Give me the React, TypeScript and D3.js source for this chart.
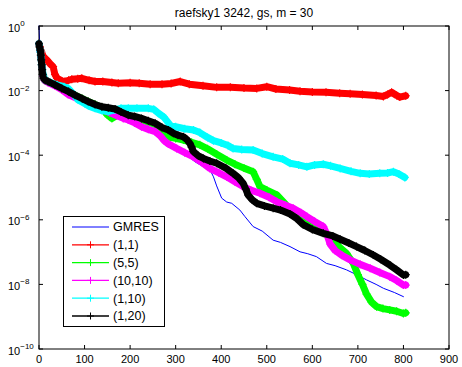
import React from "react";
import * as d3 from "d3";

const W = 462;
const H = 367;

const titleText = "raefsky1 3242, gs, m = 30";
const xTicks = [0, 100, 200, 300, 400, 500, 600, 700, 800, 900];
const yTickExps = [0, -2, -4, -6, -8, -10];
const legendLabels = ["GMRES", "(1,1)", "(5,5)", "(10,10)", "(1,10)", "(1,20)"];
const seriesColors = ["#0000ff", "#ff0000", "#00ff00", "#ff00ff", "#00ffff", "#000000"];

// [iteration, residual]
const gmres: [number, number][] = [
  [0, 1], [2, 0.2], [4, 6.31e-2], [6, 3.16e-2], [10, 2.0e-2], [20, 1.58e-2], [50, 1.0e-2],
  [80, 6.31e-3], [110, 3.8e-3], [140, 2.4e-3], [170, 1.58e-3], [200, 1.12e-3], [230, 7.08e-4],
  [260, 4.47e-4], [290, 2.24e-4], [320, 1.12e-4], [342, 6.31e-5], [360, 4.47e-5], [375, 3.63e-5],
  [383, 2.14e-5], [390, 1.12e-5], [401, 4.68e-6], [412, 3.55e-6], [423, 3.24e-6], [441, 2.0e-6],
  [452, 1.26e-6], [470, 6.17e-7], [490, 4.47e-7], [514, 2.34e-7], [530, 2.0e-7], [551, 1.48e-7],
  [573, 1.02e-7], [590, 8.91e-8], [609, 7.24e-8], [631, 4.47e-8], [650, 3.8e-8], [675, 2.82e-8],
  [697, 2.0e-8], [719, 1.38e-8], [740, 1.0e-8], [756, 7.59e-9], [780, 5.62e-9], [800, 4.17e-9],
];

const gs11: [number, number][] = [
  [0, 0.282], [2, 0.224], [5, 0.158], [10, 0.112], [17, 8.91e-2], [25, 6.61e-2], [31, 5.5e-2],
  [35, 3.16e-2], [40, 2.4e-2], [50, 2.0e-2], [57, 1.91e-2], [65, 2.09e-2], [72, 2.24e-2],
  [85, 2.34e-2], [94, 2.4e-2], [110, 2.09e-2], [123, 1.91e-2], [140, 1.91e-2], [160, 1.78e-2],
  [174, 1.7e-2], [200, 1.74e-2], [220, 1.7e-2], [244, 1.58e-2], [270, 1.58e-2], [290, 1.66e-2],
  [310, 1.91e-2], [330, 1.58e-2], [360, 1.41e-2], [390, 1.26e-2], [420, 1.26e-2], [450, 1.2e-2],
  [478, 1.17e-2], [500, 1.32e-2], [520, 1.12e-2], [550, 1.05e-2], [573, 9.55e-3], [600, 9.12e-3],
  [630, 8.91e-3], [660, 8.32e-3], [683, 7.94e-3], [710, 7.59e-3], [740, 7.08e-3], [756, 6.61e-3],
  [765, 7.59e-3], [774, 8.91e-3], [785, 7.08e-3], [792, 6.31e-3], [805, 6.92e-3],
];

const gs55: [number, number][] = [
  [0, 0.282], [3, 0.158], [6, 6.31e-2], [9, 2.82e-2], [12, 2.09e-2], [20, 1.86e-2], [35, 1.48e-2],
  [50, 1.15e-2], [65, 8.91e-3], [80, 7.08e-3], [95, 5.62e-3], [108, 4.57e-3], [123, 3.72e-3],
  [138, 3.02e-3], [150, 1.78e-3], [160, 1.38e-3], [170, 1.66e-3], [185, 1.91e-3], [196, 1.66e-3],
  [210, 1.41e-3], [225, 1.26e-3], [240, 1.05e-3], [255, 8.91e-4], [266, 6.31e-4], [277, 4.27e-4],
  [288, 3.55e-4], [300, 3.31e-4], [317, 2.95e-4], [335, 2.51e-4], [353, 2.09e-4], [370, 1.58e-4],
  [390, 1.07e-4], [412, 7.08e-5], [430, 5.25e-5], [450, 3.98e-5], [470, 3.09e-5], [478, 1.78e-5],
  [485, 1.07e-5], [500, 8.32e-6], [522, 5.89e-6], [540, 3.16e-6], [558, 1.41e-6], [575, 1.0e-6],
  [600, 7.08e-7], [624, 4.27e-7], [646, 2.34e-7], [660, 1.41e-7], [675, 9.12e-8], [690, 4.47e-8],
  [700, 2.0e-8], [710, 1.0e-8], [719, 5.01e-9], [730, 2.82e-9], [741, 2.04e-9], [755, 1.78e-9],
  [770, 1.62e-9], [785, 1.48e-9], [800, 1.26e-9], [805, 1.32e-9],
];

const gs1010: [number, number][] = [
  [0, 0.282], [3, 0.158], [6, 6.31e-2], [9, 2.82e-2], [12, 2.09e-2], [20, 1.78e-2], [35, 1.41e-2],
  [50, 1.07e-2], [64, 7.59e-3], [80, 6.03e-3], [95, 5.01e-3], [110, 3.98e-3], [125, 3.16e-3],
  [140, 2.51e-3], [155, 2.09e-3], [170, 1.7e-3], [185, 1.38e-3], [196, 1.23e-3], [210, 1.0e-3],
  [225, 7.59e-4], [240, 6.31e-4], [255, 5.37e-4], [266, 3.98e-4], [275, 2.82e-4], [284, 2.24e-4],
  [302, 1.62e-4], [320, 1.2e-4], [339, 8.91e-5], [357, 6.03e-5], [375, 3.89e-5], [395, 2.82e-5],
  [412, 2.14e-5], [430, 1.51e-5], [448, 1.07e-5], [465, 8.32e-6], [485, 6.61e-6], [505, 5.01e-6],
  [522, 3.63e-6], [540, 2.88e-6], [558, 2.29e-6], [575, 1.66e-6], [588, 1.26e-6], [605, 8.91e-7],
  [624, 6.17e-7], [632, 3.55e-7], [639, 1.78e-7], [650, 1.12e-7], [665, 7.94e-8], [683, 5.75e-8],
  [705, 4.17e-8], [727, 3.16e-8], [748, 2.34e-8], [770, 1.74e-8], [785, 1.32e-8], [800, 9.55e-9],
  [805, 9.55e-9],
];

const gs110: [number, number][] = [
  [0, 0.282], [3, 0.158], [6, 6.31e-2], [9, 3.16e-2], [13, 2.14e-2], [25, 1.78e-2], [40, 1.51e-2],
  [55, 1.32e-2], [64, 1.17e-2], [75, 7.94e-3], [86, 5.13e-3], [100, 3.98e-3], [110, 3.31e-3],
  [123, 2.82e-3], [138, 2.4e-3], [152, 2.24e-3], [165, 2.51e-3], [180, 2.82e-3], [196, 2.82e-3],
  [215, 2.82e-3], [240, 2.82e-3], [252, 2.63e-3], [262, 2.0e-3], [274, 1.51e-3], [288, 8.51e-4],
  [300, 7.59e-4], [320, 6.61e-4], [339, 6.03e-4], [353, 5.01e-4], [370, 3.55e-4], [383, 2.82e-4],
  [400, 2.4e-4], [415, 2.0e-4], [426, 1.62e-4], [445, 1.51e-4], [470, 1.45e-4], [490, 1.12e-4],
  [514, 8.91e-5], [535, 7.59e-5], [551, 5.62e-5], [570, 5.01e-5], [588, 4.37e-5], [605, 5.01e-5],
  [624, 5.25e-5], [640, 4.68e-5], [661, 3.89e-5], [685, 3.16e-5], [705, 2.75e-5], [725, 2.63e-5],
  [748, 2.75e-5], [765, 2.82e-5], [778, 3.09e-5], [790, 2.63e-5], [803, 2.04e-5],
];

const gs120: [number, number][] = [
  [0, 0.282], [1, 0.224], [3, 0.178], [4, 0.126], [5, 8.91e-2], [6, 6.31e-2], [7, 4.47e-2],
  [8, 3.16e-2], [10, 2.4e-2], [14, 2.09e-2], [20, 1.91e-2], [35, 1.51e-2], [50, 1.17e-2],
  [65, 9.33e-3], [79, 7.24e-3], [95, 5.62e-3], [108, 4.57e-3], [123, 3.72e-3], [138, 3.16e-3],
  [152, 2.95e-3], [167, 2.69e-3], [180, 2.19e-3], [196, 1.74e-3], [210, 1.58e-3], [225, 1.38e-3],
  [240, 1.17e-3], [255, 9.77e-4], [270, 7.24e-4], [284, 6.03e-4], [295, 4.79e-4], [305, 4.17e-4],
  [317, 3.72e-4], [325, 3.02e-4], [331, 2.34e-4], [335, 1.78e-4], [339, 1.29e-4], [350, 9.55e-5],
  [361, 7.94e-5], [375, 6.61e-5], [390, 5.62e-5], [410, 3.98e-5], [426, 2.75e-5], [438, 2.0e-5],
  [448, 1.35e-5], [454, 8.91e-6], [459, 5.89e-6], [468, 4.17e-6], [478, 3.24e-6], [495, 2.69e-6],
  [514, 2.29e-6], [530, 2.0e-6], [551, 1.51e-6], [565, 1.12e-6], [580, 7.08e-7], [600, 5.01e-7],
  [624, 3.8e-7], [645, 3.16e-7], [661, 2.51e-7], [680, 1.91e-7], [697, 1.48e-7], [715, 1.12e-7],
  [734, 8.13e-8], [750, 6.03e-8], [770, 3.98e-8], [785, 2.82e-8], [800, 1.95e-8], [805, 2.0e-8],
];

const seriesData = [gmres, gs11, gs55, gs1010, gs110, gs120];

const FONT = "'Liberation Sans', Arial, Helvetica, sans-serif";

export default function App() {
  const left = 39, right = 449, top = 26, bottom = 349;
  const x = d3.scaleLinear().domain([0, 900]).range([left, right]);
  const y = d3.scaleLog().domain([1e-10, 1]).range([bottom, top]);
  const line = d3
    .line<[number, number]>()
    .x((d) => x(d[0]))
    .y((d) => y(d[1]));

  const plus = (cx: number, cy: number, r: number) =>
    `M${cx - r},${cy}H${cx + r}M${cx},${cy - r}V${cy + r}`;

  const tl = 4;
  const legX = 63.5, legY = 216.5, legW = 101, legH = 110;
  const legRow0 = 227, legStep = 17.8;

  return (
    <svg
      width={W}
      height={H}
      style={{ position: "absolute", left: 0, top: 0, background: "#fff" }}
      fontFamily={FONT}
    >
      <rect x={0} y={0} width={W} height={H} fill="#fff" />
      {seriesData.map((data, i) => {
        const isG = i === 0;
        return (
          <g key={i}>
            <path
              d={line(data) || ""}
              fill="none"
              stroke={seriesColors[i]}
              strokeWidth={isG ? 1 : 7}
              strokeLinejoin="round"
              strokeLinecap="round"
            />
            {!isG && (
              <path
                d={data.map((d) => plus(x(d[0]), y(d[1]), 4)).join("")}
                fill="none"
                stroke={seriesColors[i]}
                strokeWidth={1.2}
              />
            )}
          </g>
        );
      })}
      <rect x={left} y={top} width={right - left} height={bottom - top} fill="none" stroke="#000" strokeWidth={1} />
      {xTicks.map((t) => (
        <g key={"x" + t}>
          <line x1={x(t)} x2={x(t)} y1={bottom} y2={bottom - tl} stroke="#000" />
          <line x1={x(t)} x2={x(t)} y1={top} y2={top + tl} stroke="#000" />
          <text x={x(t)} y={363} fontSize={11} textAnchor="middle" fill="#000">
            {t}
          </text>
        </g>
      ))}
      {yTickExps.map((e) => {
        const v = Math.pow(10, e);
        const yy = y(v);
        return (
          <g key={"y" + e}>
            <line x1={left} x2={left + tl} y1={yy} y2={yy} stroke="#000" />
            <line x1={right} x2={right - tl} y1={yy} y2={yy} stroke="#000" />
            <text x={8} y={yy + 5.5} fontSize={11} fill="#000">
              10
              <tspan fontSize={8} dy={-5.5}>
                {e === 0 ? "0" : "\u2212" + Math.abs(e)}
              </tspan>
            </text>
          </g>
        );
      })}
      <text x={(left + right) / 2} y={17} fontSize={12} textAnchor="middle" fill="#000">
        {titleText}
      </text>
      <rect x={legX} y={legY} width={legW} height={legH} fill="#fff" stroke="#000" strokeWidth={1} />
      {legendLabels.map((lab, i) => {
        const yy = legRow0 + i * legStep;
        return (
          <g key={"l" + i}>
            <line x1={72} x2={109} y1={yy} y2={yy} stroke={seriesColors[i]} strokeWidth={i === 0 ? 1 : 1.3} />
            {i > 0 && <path d={plus(90.5, yy, 3.5)} stroke={seriesColors[i]} strokeWidth={1} fill="none" />}
            <text x={113} y={yy + 4.3} fontSize={12.5} fill="#000">
              {lab}
            </text>
          </g>
        );
      })}
    </svg>
  );
}
